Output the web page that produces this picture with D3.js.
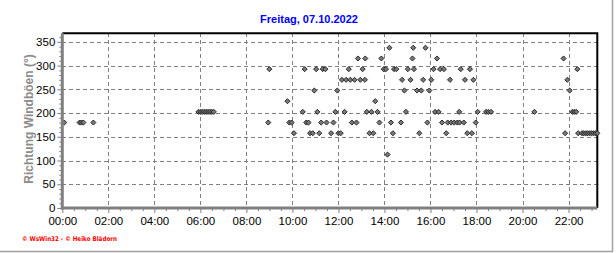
<!DOCTYPE html>
<html><head><meta charset="utf-8">
<script src="https://cdn.jsdelivr.net/npm/d3@7"></script>
<style>html,body{margin:0;padding:0;background:#fff;} svg{display:block;}</style>
</head><body>
<svg id="chart" width="616" height="253"></svg>
<script>
const chartTitle = "Freitag, 07.10.2022";
const yAxisTitle = "Richtung Windböen (°)";
const footerText = "© WsWin32 - © Heiko Blädorn";
const xTickLabels = ["00:00","02:00","04:00","06:00","08:00","10:00","12:00","14:00","16:00","18:00","20:00","22:00"];
const yTickValues = [0,50,100,150,200,250,300,350];
const xDomainMinutes = [0, 1395];
const yDomain = [0, 368];

const obsTimes = [
  // 337.5
  "14:13","15:15","15:47",
  // 315
  "12:51","13:10","13:52","15:13","16:17","21:47",
  // 292.5
  "09:00","10:32","11:02","11:19","11:26","12:27","13:03","13:58","14:04","14:25","14:31","15:01","15:17","16:08","16:25","16:35","17:19","17:43","22:23",
  // 270
  "12:09","12:20","12:31","12:42","12:57","13:09","14:46","15:08","15:41","16:02","16:51","17:30","17:52","21:57",
  // 247.5
  "10:57","11:57","14:52","15:25","15:36","15:57","22:03",
  // 225
  "09:47","13:36",
  // 202.5
  "05:55","06:00","06:05","06:10","06:15","06:20","06:25","06:30","06:35",
  "10:27","11:05","11:52","12:16","13:14","13:26","13:42","14:56","16:12","16:21","17:15","18:03","18:25","18:31","18:38","20:31","22:10","22:15","22:20",
  // 180
  "00:05","00:45","00:50","00:55","01:21","08:57","09:52","09:58","10:36","10:42","11:15","11:29","11:47","12:35","12:47","13:47","14:17","14:43","15:52",
  "16:30","16:45","16:54","17:02","17:10","17:16","17:27","17:58",
  // 157.5
  "10:04","10:46","10:53","11:10","11:41","12:00","12:06","13:21","13:31","14:22","15:31","16:41","17:36","17:48","21:51",
  "22:25","22:35","22:40","22:45","22:50","22:55","23:00","23:05","23:10","23:15",
  // 112.5
  "14:08"
];
const obsDirs = [
  337.5,337.5,337.5,
  315,315,315,315,315,315,
  292.5,292.5,292.5,292.5,292.5,292.5,292.5,292.5,292.5,292.5,292.5,292.5,292.5,292.5,292.5,292.5,292.5,292.5,292.5,
  270,270,270,270,270,270,270,270,270,270,270,270,270,270,
  247.5,247.5,247.5,247.5,247.5,247.5,247.5,
  225,225,
  202.5,202.5,202.5,202.5,202.5,202.5,202.5,202.5,202.5,
  202.5,202.5,202.5,202.5,202.5,202.5,202.5,202.5,202.5,202.5,202.5,202.5,202.5,202.5,202.5,202.5,202.5,202.5,202.5,
  180,180,180,180,180,180,180,180,180,180,180,180,180,180,180,180,180,180,180,
  180,180,180,180,180,180,180,180,
  157.5,157.5,157.5,157.5,157.5,157.5,157.5,157.5,157.5,157.5,157.5,157.5,157.5,157.5,157.5,
  157.5,157.5,157.5,157.5,157.5,157.5,157.5,157.5,157.5,157.5,
  112.5
];

const toMin = s => { const [h,m] = s.split(":").map(Number); return h*60+m; };

const svg = d3.select("#chart");
const L = 62.3, R = 597.3, T = 33.3, B = 208;
const x = d3.scaleLinear().domain(xDomainMinutes).range([L, R]);
const y = d3.scaleLinear().domain(yDomain).range([B, T]);
const xTickVals = xTickLabels.map(toMin);

// outer frame (right + bottom)
svg.append("line").attr("x1",612.5).attr("x2",612.5).attr("y1",0).attr("y2",252)
  .attr("stroke","#a0a0a0").attr("stroke-width",1.5);
svg.append("line").attr("x1",0).attr("x2",613).attr("y1",251.5).attr("y2",251.5)
  .attr("stroke","#a0a0a0").attr("stroke-width",1.5);

// grid
const grid = svg.append("g").attr("stroke","#808080").attr("stroke-width",1).attr("stroke-dasharray","4,3").attr("shape-rendering","crispEdges");
grid.selectAll("line.v").data(xTickVals.filter(v => v > 0)).join("line")
  .attr("x1", d => Math.round(x(d))+0.5).attr("x2", d => Math.round(x(d))+0.5)
  .attr("y1", T).attr("y2", B);
grid.selectAll("line.h").data(yTickValues.filter(v => v > 0)).join("line")
  .attr("x1", L).attr("x2", R)
  .attr("y1", d => Math.round(y(d))+0.5).attr("y2", d => Math.round(y(d))+0.5);

// top and right border
svg.append("path").attr("d", `M${L},${T}H${R}V${B}`).attr("fill","none")
  .attr("stroke","#000").attr("stroke-width",2);

// points
const diamond = { draw(ctx, size){ const r = Math.sqrt(size/2); ctx.moveTo(0,-r); ctx.lineTo(r,0); ctx.lineTo(0,r); ctx.lineTo(-r,0); ctx.closePath(); } };
const sym = d3.symbol().type(diamond).size(13);
svg.append("g").selectAll("path").data(obsTimes.map((t,i) => ({t: toMin(t), v: obsDirs[i]}))).join("path")
  .attr("d", sym)
  .attr("transform", d => `translate(${x(d.t)},${y(d.v)})`)
  .attr("fill","#7a7a7a").attr("stroke","#1a1a1a").attr("stroke-width",0.9);

// axes
const fontFam = "'Liberation Sans', Arial, sans-serif";
const xAxis = svg.append("g").attr("transform", `translate(0,${B})`)
  .call(d3.axisBottom(x).tickValues(xTickVals).tickFormat((d,i) => xTickLabels[i]).tickSize(5).tickSizeOuter(0));
const xMinor = svg.append("g").attr("transform", `translate(0,${B})`)
  .call(d3.axisBottom(x).tickValues(d3.range(30, 1395, 30).filter(v => v % 120 !== 0)).tickFormat("").tickSize(3).tickSizeOuter(0));
const yAxis = svg.append("g").attr("transform", `translate(${L},0)`)
  .call(d3.axisLeft(y).tickValues(yTickValues).tickSize(5).tickSizeOuter(0));
const yMinor = svg.append("g").attr("transform", `translate(${L},0)`)
  .call(d3.axisLeft(y).tickValues(d3.range(10, 368, 10).filter(v => v % 50 !== 0)).tickFormat("").tickSize(3).tickSizeOuter(0));

[xAxis, xMinor, yAxis, yMinor].forEach(g => {
  g.selectAll(".domain").attr("stroke","#808080").attr("stroke-width",3);
  g.selectAll(".tick line").attr("stroke","#808080").attr("stroke-width",1);
  g.selectAll("text").attr("font-family", fontFam).attr("font-size", 11.5).attr("fill","#000");
});
xAxis.selectAll("text").attr("dy", "0.71em").attr("y", 9);
yAxis.selectAll("text").attr("x", -7);
xMinor.select(".domain").remove(); yMinor.select(".domain").remove();
yAxis.select(".domain").attr("d", `M0,${T}V${B+1.5}`);
xAxis.select(".domain").attr("d", `M${L-1.5},0H${R}`);

// title
svg.append("text").attr("x", 309).attr("y", 23).attr("text-anchor","middle")
  .attr("font-family", fontFam).attr("font-weight","bold").attr("font-size", 11)
  .attr("fill","#0000ff").text(chartTitle);

// y axis title
svg.append("text").attr("transform", "translate(33,119) rotate(-90)").attr("text-anchor","middle")
  .attr("font-family", fontFam).attr("font-weight","bold").attr("font-size", 12)
  .attr("fill","#8c8c8c").text(yAxisTitle);

// footer
svg.append("text").attr("x", 22).attr("y", 241)
  .attr("font-family", "'DejaVu Sans', Verdana, sans-serif").attr("font-weight","bold").attr("font-size", 6.5)
  .attr("fill","#ff0000").attr("textLength", 95).attr("lengthAdjust","spacingAndGlyphs").text(footerText);
</script>
</body></html>
